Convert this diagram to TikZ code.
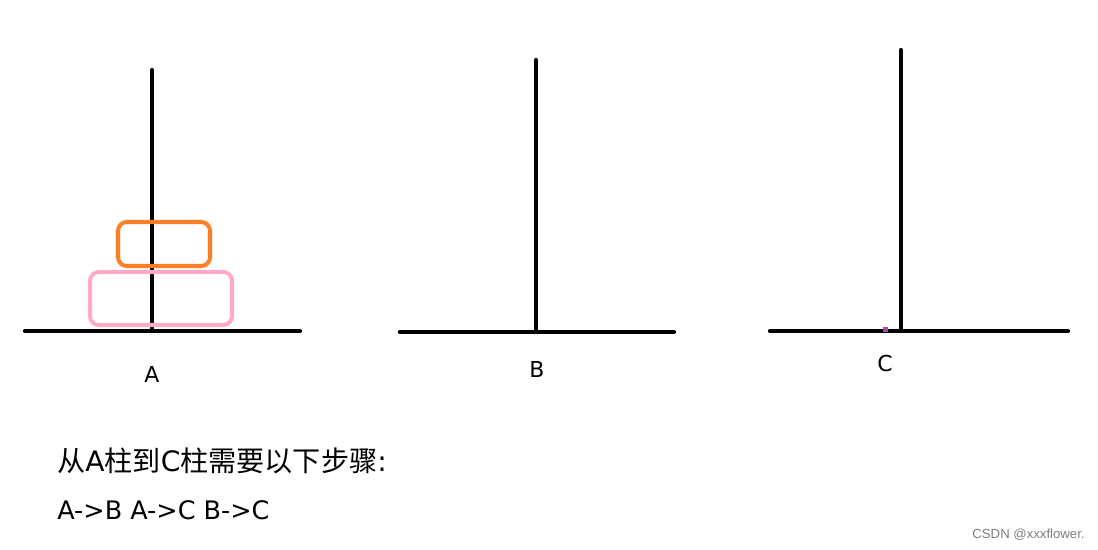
\documentclass[tikz,border=0pt]{standalone}
\usepackage{fontspec}
\setmainfont{Noto Sans CJK SC}
\setsansfont{Liberation Sans}
\newfontfamily\latinfont{DejaVu Sans}
\usepackage{tikz}
\usetikzlibrary{calc}
\usepackage{xcolor}
\definecolor{diskorange}{RGB}{255,127,39}
\definecolor{diskpink}{RGB}{255,170,201}
\definecolor{dotpurple}{RGB}{163,73,164}
\newcommand{\pxsize}{0.02}
\newcommand{\prdisk}[5]{\draw[#1,line width=2.3pt,rounded corners=5pt] (#2,#3) rectangle (#4,#5);}
\newcommand{\lt}[1]{{\latinfont #1}}

\begin{document}
\begin{tikzpicture}[x=\pxsize cm,y=-\pxsize cm,
    rod/.style={line width=2.4pt,line cap=round},
    lbl/.style={font=\fontsize{12.5}{15}\selectfont\latinfont,inner sep=0pt}]
	\useasboundingbox[fill=white] (0,0) rectangle (1098,550);

    % poles and bases
    \draw[rod] (152,70) -- (152,331);
    \draw[rod] (25,331) -- (300,331);
    \draw[rod] (536,60) -- (536,332);
    \draw[rod] (400,332) -- (674,332);
    \draw[rod] (901,50) -- (901,331);
    \draw[rod] (770,331) -- (1068,331);
    \fill[dotpurple] (882.5,327.5) rectangle (887.5,332.5);

    % disks
    \prdisk{diskorange}{118}{222}{210}{266}
    \prdisk{diskpink}{90}{272}{232}{325}

    \node[lbl] (labA) at (152,374) {A};
    \node[lbl] (labB) at (537,369) {B};
    \node[lbl] (labC) at (885,364) {C};

    \node[anchor=west,inner sep=0pt,font=\fontsize{16}{19}\selectfont] (title) at (57,461) {从\lt{A}柱到\lt{C}柱需要以下步骤\lt{:}};
    \node[anchor=west,inner sep=0pt,font=\fontsize{14.5}{17}\selectfont\latinfont] (steps) at (57,510) {A->B A->C B->C};
    \node[anchor=east,inner sep=0pt,text=gray,font=\fontsize{7.5}{9}\selectfont\sffamily] (mark) at (1085,535) {CSDN @xxxflower.};
\end{tikzpicture}
\end{document}
